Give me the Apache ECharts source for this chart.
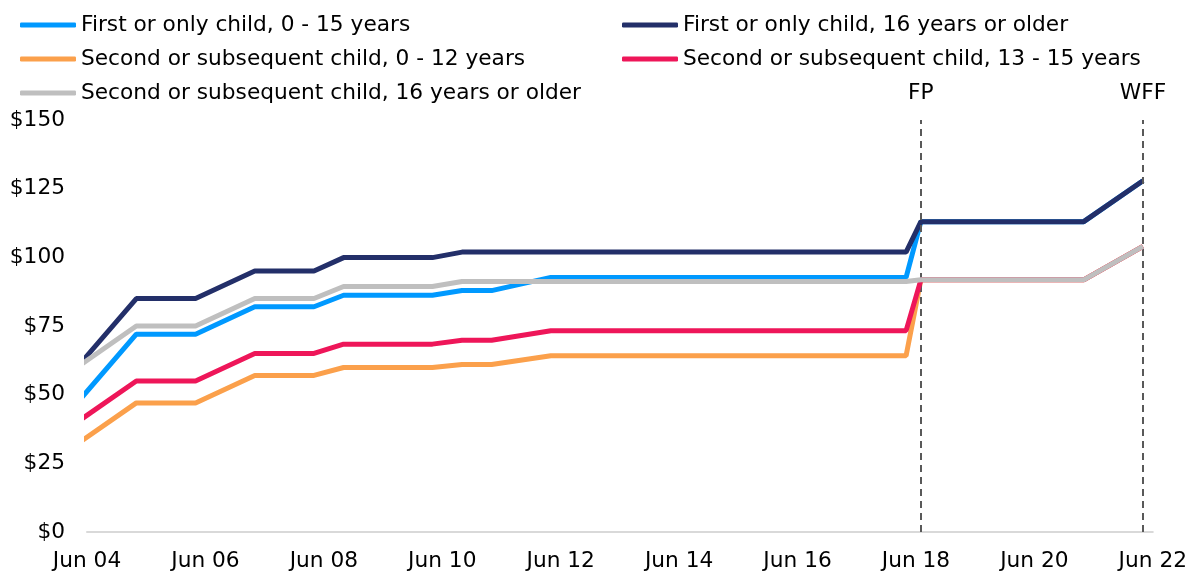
<!DOCTYPE html>
<html>
<head>
<meta charset="utf-8">
<style>
  html, body { margin: 0; padding: 0; background: #ffffff; }
  #chart { width: 1190px; height: 572px; }
</style>
<script src="https://cdn.jsdelivr.net/npm/echarts@6/dist/echarts.min.js"></script>
</head>
<body>
<div id="chart"></div>
<script>
// Weekly family tax credit rates by child category (NZ$), at each rate change date
const dates = [
  '2004-04', '2005-04', '2006-04', '2007-04', '2008-04', '2008-10', '2009-04',
  '2010-04', '2010-10', '2011-04', '2012-04', '2013-04', '2014-04', '2015-04',
  '2016-04', '2017-04', '2018-04', '2018-07', '2019-04', '2020-04', '2021-04', '2022-04'
];

const firstChild0to15 = [
  47, 72, 72, 82, 82, 86.2, 86.2,
  86.2, 87.9, 87.9, 92.7, 92.7, 92.7, 92.7,
  92.7, 92.7, 92.7, 113.0, 113.0, 113.0, 113.0, 127.9
];
const firstChild16plus = [
  60, 85, 85, 95, 95, 99.9, 99.9,
  99.9, 101.9, 101.9, 101.9, 101.9, 101.9, 101.9,
  101.9, 101.9, 101.9, 113.0, 113.0, 113.0, 113.0, 127.9
];
const subsequent0to12 = [
  32, 47, 47, 57, 57, 59.9, 59.9,
  59.9, 61.0, 61.0, 64.2, 64.2, 64.2, 64.2,
  64.2, 64.2, 64.2, 91.8, 91.8, 91.8, 91.8, 104.0
];
const subsequent13to15 = [
  40, 55, 55, 65, 65, 68.4, 68.4,
  68.4, 69.8, 69.8, 73.3, 73.3, 73.3, 73.3,
  73.3, 73.3, 73.3, 91.8, 91.8, 91.8, 91.8, 104.0
];
const subsequent16plus = [
  60, 75, 75, 85, 85, 89.4, 89.4,
  89.4, 91.2, 91.2, 91.2, 91.2, 91.2, 91.2,
  91.2, 91.2, 91.2, 91.8, 91.8, 91.8, 91.8, 104.0
];

const seriesNames = [
  'First or only child, 0 - 15 years',
  'First or only child, 16 years or older',
  'Second or subsequent child, 0 - 12 years',
  'Second or subsequent child, 13 - 15 years',
  'Second or subsequent child, 16 years or older'
];
const seriesColors = ['#0099FF', '#232F69', '#FBA04B', '#EE1659', '#BFBFBF'];

// Policy events marked with vertical dashed lines
const eventLabels = ['FP', 'WFF'];
const eventDates = ['2018-07', '2022-04'];

// Axis range (Jun 2004 to Jun 2022), labelled every two years
const axisStart = '2004-06';
const axisEnd = '2022-06';
const yTicks = [0, 25, 50, 75, 100, 125, 150];

const monthNames = ['Jan','Feb','Mar','Apr','May','Jun','Jul','Aug','Sep','Oct','Nov','Dec'];
function monthIndex(s) {
  const [y, m] = s.split('-').map(Number);
  return y * 12 + (m - 1);
}
const base = monthIndex(axisStart);
const toX = s => monthIndex(s) - base;
function monthLabel(v) {
  const idx = base + v;
  const y = Math.floor(idx / 12);
  const m = idx - y * 12;
  return monthNames[m] + ' ' + String(y % 100).padStart(2, '0');
}

const FONT = 'DejaVu Sans';
const FS = 21.7;

const valueSets = [firstChild0to15, firstChild16plus, subsequent0to12, subsequent13to15, subsequent16plus];
const series = valueSets.map((vals, i) => ({
  name: seriesNames[i],
  type: 'line',
  symbol: 'none',
  clip: true,
  data: vals.map((v, j) => [toX(dates[j]), v]),
  lineStyle: { color: seriesColors[i], width: 5 },
  itemStyle: { color: seriesColors[i] },
  z: 2 + i
}));

// Event markers drawn on the final series
series[series.length - 1].markLine = {
  silent: true,
  symbol: ['none', 'none'],
  lineStyle: { color: '#595959', width: 2, type: [7, 5] },
  label: {
    show: true,
    position: 'end',
    distance: 16,
    color: '#000000',
    fontFamily: FONT,
    fontSize: FS
  },
  data: eventDates.map((d, i) => ({ xAxis: toX(d), label: { formatter: eventLabels[i] } }))
};

const legendBase = {
  orient: 'vertical',
  icon: 'roundRect',
  itemWidth: 56,
  itemHeight: 5,
  itemGap: 0,
  top: 8,
  padding: 0,
  selectedMode: false,
  textStyle: { fontFamily: FONT, fontSize: FS, color: '#000000', lineHeight: 34 }
};

const chart = echarts.init(document.getElementById('chart'), null, { renderer: 'canvas' });
chart.setOption({
  animation: false,
  backgroundColor: '#ffffff',
  legend: [
    Object.assign({}, legendBase, { left: 20, data: [seriesNames[0], seriesNames[2], seriesNames[4]] }),
    Object.assign({}, legendBase, { left: 622, data: [seriesNames[1], seriesNames[3]] })
  ],
  grid: { left: 87, right: 37, top: 120, bottom: 37, containLabel: false },
  xAxis: {
    type: 'value',
    min: 0,
    max: toX(axisEnd),
    interval: 24,
    axisLine: { show: true, lineStyle: { color: '#D9D9D9', width: 2 } },
    axisTick: { show: false },
    splitLine: { show: false },
    axisLabel: {
      margin: 18,
      color: '#000000',
      fontFamily: FONT,
      fontSize: FS,
      showMinLabel: true,
      showMaxLabel: true,
      formatter: v => monthLabel(v)
    }
  },
  yAxis: {
    type: 'value',
    min: yTicks[0],
    max: yTicks[yTicks.length - 1],
    interval: 25,
    axisLine: { show: false },
    axisTick: { show: false },
    splitLine: { show: false },
    axisLabel: {
      margin: 22,
      color: '#000000',
      fontFamily: FONT,
      fontSize: FS,
      formatter: v => '$' + v
    }
  },
  series: series
});
</script>
</body>
</html>
